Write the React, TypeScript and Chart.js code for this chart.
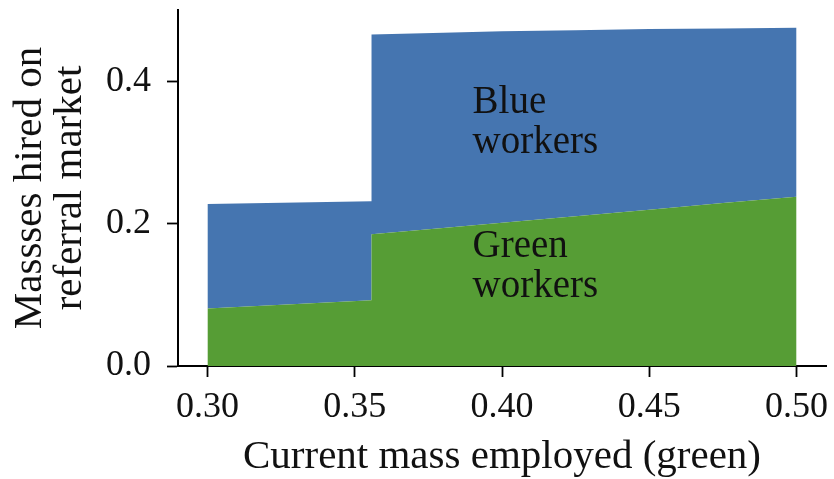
import React, { useEffect, useRef } from "react";
import { Chart, registerables } from "chart.js";

Chart.register(...registerables);

// Current mass employed (green) at each sample; the repeated x marks the jump.
const employed = [0.3, 0.3557, 0.3557, 0.38, 0.4, 0.425, 0.45, 0.475, 0.5];
// Mass of green workers hired on the referral market.
const greenHired = [0.081, 0.0925, 0.1855, 0.1945, 0.2018, 0.211, 0.2202, 0.2294, 0.2385];
// Mass of blue workers hired on the referral market (stacked on top of green).
const blueHired = [0.147, 0.1395, 0.2815, 0.275, 0.2697, 0.262, 0.2543, 0.2461, 0.238];

const xTickValues = [0.3, 0.35, 0.4, 0.45, 0.5];
const xTickLabels = ["0.30", "0.35", "0.40", "0.45", "0.50"];
const yTickValues = [0.0, 0.2, 0.4];
const yTickLabels = ["0.0", "0.2", "0.4"];

const xLimits = [0.29, 0.51];
const yLimits = [0, 0.5014];

// Area labels: [x, y of first line baseline, y of second line baseline, line 1, line 2]
const areaLabels: [number, number, number, string, string][] = [
  [0.39, 0.3563, 0.3, "Blue", "workers"],
  [0.39, 0.1535, 0.0972, "Green", "workers"],
];

const BLUE = "#4575B0";
const GREEN = "#569D35";
const SERIF = "'Liberation Serif', 'Times New Roman', serif";

const areaLabelPlugin = {
  id: "areaLabels",
  afterDatasetsDraw(chart: any) {
    const { ctx, scales } = chart;
    ctx.save();
    ctx.fillStyle = "#111111";
    ctx.font = `39px ${SERIF}`;
    ctx.textAlign = "left";
    ctx.textBaseline = "alphabetic";
    for (const [x, y1, y2, l1, l2] of areaLabels) {
      const px = scales.x.getPixelForValue(x);
      ctx.fillText(l1, px, scales.y.getPixelForValue(y1));
      ctx.fillText(l2, px, scales.y.getPixelForValue(y2));
    }
    ctx.restore();
  },
};

export default function App() {
  const canvasRef = useRef<HTMLCanvasElement | null>(null);

  useEffect(() => {
    const canvas = canvasRef.current;
    if (!canvas) return;

    const greenPts = employed.map((x, i) => ({ x, y: greenHired[i] }));
    const totalPts = employed.map((x, i) => ({ x, y: greenHired[i] + blueHired[i] }));

    const chart = new Chart(canvas, {
      type: "line",
      data: {
        datasets: [
          {
            label: "Green workers",
            data: greenPts,
            fill: "origin",
            backgroundColor: GREEN,
            borderColor: "transparent",
            borderWidth: 0,
            pointRadius: 0,
            tension: 0,
          },
          {
            label: "Blue workers",
            data: totalPts,
            fill: "-1",
            backgroundColor: BLUE,
            borderColor: "transparent",
            borderWidth: 0,
            pointRadius: 0,
            tension: 0,
          },
        ],
      },
      options: {
        responsive: false,
        animation: false,
        events: [],
        layout: { padding: { left: 0, right: 8, top: 10, bottom: 0 } },
        plugins: {
          legend: { display: false },
          tooltip: { enabled: false },
        },
        scales: {
          x: {
            type: "linear",
            min: xLimits[0],
            max: xLimits[1],
            afterBuildTicks: (scale: any) => {
              scale.ticks = xTickValues.map((v) => ({ value: v }));
            },
            afterFit: (scale: any) => {
              scale.height = 113;
              scale.paddingLeft = 0;
              scale.paddingRight = 0;
            },
            ticks: {
              autoSkip: false,
              maxRotation: 0,
              padding: 13,
              color: "#111111",
              font: { family: SERIF, size: 36, lineHeight: 1.0 },
              callback: (_v: any, i: number) => xTickLabels[i],
            },
            grid: {
              drawOnChartArea: false,
              drawTicks: true,
              tickLength: 11,
              tickWidth: 1.8,
              tickColor: "#000000",
            },
            border: { display: true, color: "#000000", width: 2 },
            title: {
              display: true,
              text: "Current mass employed (green)",
              color: "#111111",
              font: { family: SERIF, size: 41, lineHeight: 1.0 },
              padding: { top: 0, bottom: 1 },
            },
          },
          y: {
            type: "linear",
            min: yLimits[0],
            max: yLimits[1],
            afterBuildTicks: (scale: any) => {
              scale.ticks = yTickValues.map((v) => ({ value: v }));
            },
            afterFit: (scale: any) => {
              scale.width = 178;
              scale.paddingTop = 0;
              scale.paddingBottom = 0;
            },
            ticks: {
              autoSkip: false,
              padding: 16,
              color: "#111111",
              font: { family: SERIF, size: 36, lineHeight: 1.0 },
              callback: (_v: any, i: number) => yTickLabels[i],
            },
            grid: {
              drawOnChartArea: false,
              drawTicks: true,
              tickLength: 11,
              tickWidth: 1.8,
              tickColor: "#000000",
            },
            border: { display: true, color: "#000000", width: 2 },
            title: {
              display: true,
              text: ["Massses hired on", "referral market"],
              color: "#111111",
              font: { family: SERIF, size: 41, lineHeight: 0.98 },
              padding: { top: 10, bottom: 0 },
            },
          },
        },
      },
      plugins: [areaLabelPlugin],
    });

    return () => chart.destroy();
  }, []);

  return (
    <div style={{ position: "fixed", left: 0, top: 0, width: 834, height: 479, background: "#ffffff" }}>
      <canvas ref={canvasRef} width={834} height={479} style={{ display: "block" }} />
    </div>
  );
}
